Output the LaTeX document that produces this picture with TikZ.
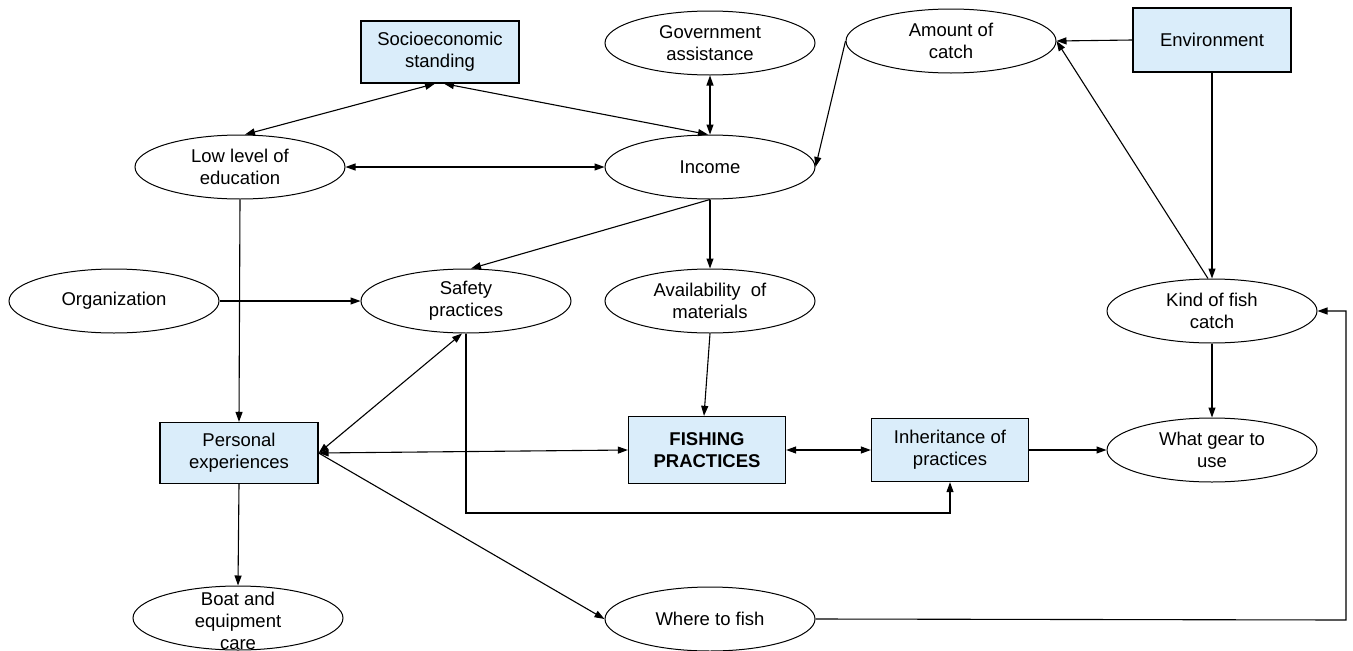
\documentclass[tikz,border=0pt]{standalone}
\usepackage{fontspec}
\setmainfont{Liberation Sans}
\usetikzlibrary{shapes.geometric,arrows.meta,calc}
\definecolor{boxblue}{RGB}{218,237,250}
\tikzset{
  oval/.style={ellipse, draw, line width=1pt, minimum width=210pt, minimum height=64pt, inner sep=0pt},
  sqbox/.style={rectangle, draw, line width=1.3pt, fill=boxblue, minimum width=158pt, minimum height=62pt, inner sep=0pt},
  txt/.style={align=center, inner sep=0pt, font=\fontsize{18.5}{22}\selectfont},
  conn/.style={line width=1.1pt},
  >={Triangle[length=10pt,width=7pt]}
}
\begin{document}
\begin{tikzpicture}[x=1pt,y=-1pt]
\useasboundingbox (0,0) rectangle (1353,651);
% boxes
\node[sqbox] (socio) at (440,52) {};
\node[txt] (sociot) at (socio) {Socioeconomic\\standing};
\node[sqbox, minimum height=64pt] (env) at (1212,40) {};
\node[txt] (envt) at (env) {Environment};
\node[sqbox, minimum height=61pt] (pers) at (239,453) {};
\node[txt] (perst) at (pers) {Personal\\experiences};
\node[sqbox, minimum width=157pt, minimum height=67pt] (fish) at (707,450) {};
\node[txt, font=\fontsize{18.5}{22}\selectfont\bfseries] (fisht) at (fish) {FISHING\\PRACTICES};
\node[sqbox, minimum width=157pt, minimum height=63pt] (inh) at (950,450) {};
\node[txt] (inht) at (inh) {Inheritance of\\practices};
% ellipses
\node[oval] (gov) at (710,43) {};
\node[txt] (govt) at (gov) {Government\\assistance};
\node[oval] (amount) at (951,41) {};
\node[txt] (amountt) at (amount) {Amount of\\catch};
\node[oval] (low) at (240,167) {};
\node[txt] (lowt) at (low) {Low level of\\education};
\node[oval] (income) at (710,167) {};
\node[txt] (incomet) at (income) {Income};
\node[oval] (org) at (114,301) {};
\node[txt] (orgt) at (org) {Organization};
\node[oval] (safety) at (466,301) {};
\node[txt] (safetyt) at (safety) {Safety\\practices};
\node[oval] (avail) at (710,301) {};
\node[txt] (availt) at (avail) {Availability~ of\\materials};
\node[oval] (kind) at (1212,311) {};
\node[txt] (kindt) at (kind) {Kind of fish\\catch};
\node[oval] (gear) at (1212,450) {};
\node[txt] (geart) at (gear) {What gear to\\use};
\node[oval] (boat) at (238,618) {};
\node[txt] (boatt) at ([yshift=-3pt]boat) {Boat and\\equipment\\care};
\node[oval] (where) at (710,619) {};
\node[txt] (wheret) at (where) {Where to fish};
% helper coordinates
\coordinate (bend) at (466,513);
\coordinate (rt) at (1346,620);
% connectors
\draw[conn,<->] ([xshift=5pt]low.north) -- ([xshift=-5pt]socio.south);
\draw[conn,<->] ([xshift=4pt]socio.south) -- ([xshift=-2pt]income.north);
\draw[conn,<->] (gov.south) -- (income.north);
\draw[conn,<->] (low.east) -- (income.west);
\draw[conn,->] (amount.west) -- (income.east);
\draw[conn,->] (env.west) -- (amount.east);
\draw[conn,->] (env.south) -- (kind.north);
\draw[conn,->] ([xshift=-4pt]kind.north) -- (amount.east);
\draw[conn,->] (income.south) -- ([xshift=5pt]safety.north);
\draw[conn,->] (income.south) -- (avail.north);
\draw[conn,->] (org.east) -- (safety.west);
\draw[conn,->] (low.south) -- (pers.north);
\draw[conn,->] (avail.south) -- ([xshift=-3pt]fish.north);
\draw[conn,<->] (pers.east) -- ([xshift=-4pt]safety.south);
\draw[conn,<->] (pers.east) -- (fish.west);
\draw[conn,->] (pers.east) -- (where.west);
\draw[conn,->] (pers.south) -- (boat.north);
\draw[conn,->] (safety.south) -- (bend) -| (inh.south);
\draw[conn,<->] (fish.east) -- (inh.west);
\draw[conn,->] (inh.east) -- (gear.west);
\draw[conn,->] (kind.south) -- (gear.north);
\draw[conn,->] (where.east) -- (rt) |- (kind.east);
\end{tikzpicture}
\end{document}
